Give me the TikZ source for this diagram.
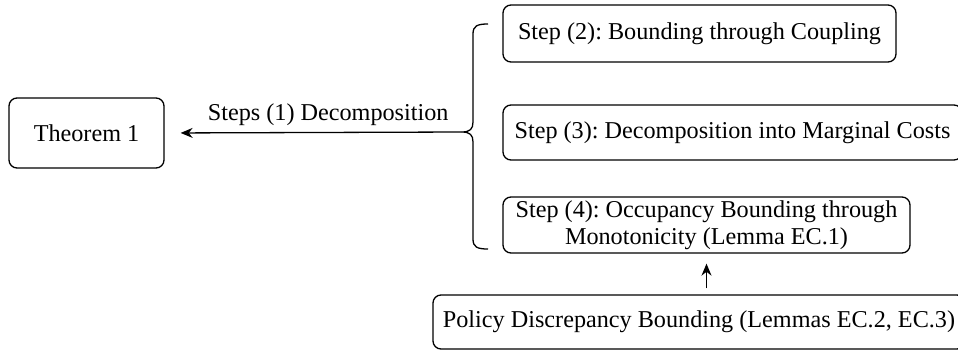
\documentclass[tikz,border=0pt]{standalone}
\usepackage{fontspec}
\setmainfont{Liberation Serif}
\usetikzlibrary{arrows.meta}
\frenchspacing
\begin{document}
\begin{tikzpicture}[x=1pt,y=-1pt,
  box/.style={draw, line width=1.3pt, rounded corners=8pt, inner sep=0pt,
    align=center, font=\fontsize{24.2}{27}\selectfont},
  conn/.style={line width=1.3pt, -{Stealth[length=12pt,width=10pt]}},
  lbl/.style={inner sep=0pt, font=\fontsize{24.2}{27}\selectfont}]
\useasboundingbox (0,0) rectangle (958,351);
\begin{scope}
\clip (0,0) rectangle (958,351);
% main result
\node[box, minimum width=155pt, minimum height=70pt] (thm) at (86.5,133) {Theorem 1};
% the three proof steps
\node[box, minimum width=393pt, minimum height=57pt] (s2) at (699.5,33.5) {Step (2): Bounding through Coupling};
\node[box, minimum width=459pt, minimum height=55pt] (s3) at (732.5,132.5) {Step (3): Decomposition into Marginal Costs};
\node[box, minimum width=407pt, minimum height=56pt] (s4) at (706.5,225) {Step (4): Occupancy Bounding through\\Monotonicity (Lemma EC.1)};
% supporting lemmas
\node[box, minimum width=532pt, minimum height=54pt] (pd) at (699,322) {Policy Discrepancy Bounding (Lemmas EC.2, EC.3)};
% curly brace grouping the steps
\coordinate (tip) at (462,132);
\draw[line width=1.3pt] (488,24) .. controls (477,24) and (473,26) .. (473,34)
  -- (473,122) .. controls (473,129) and (470,132) .. (tip)
  .. controls (470,132) and (473,135) .. (473,142)
  -- (473,239) .. controls (473,247) and (477,249) .. (488,249);
% decomposition arrow
\draw[conn, shorten >=16pt] (tip) -- (thm.east)
  node[lbl, pos=0.45, above=6pt] {Steps (1) Decomposition};
% lemma arrow
\draw[conn, shorten >=10pt, shorten <=6pt] (pd.north -| s4.south) -- (s4.south);
\end{scope}
\end{tikzpicture}
\end{document}
